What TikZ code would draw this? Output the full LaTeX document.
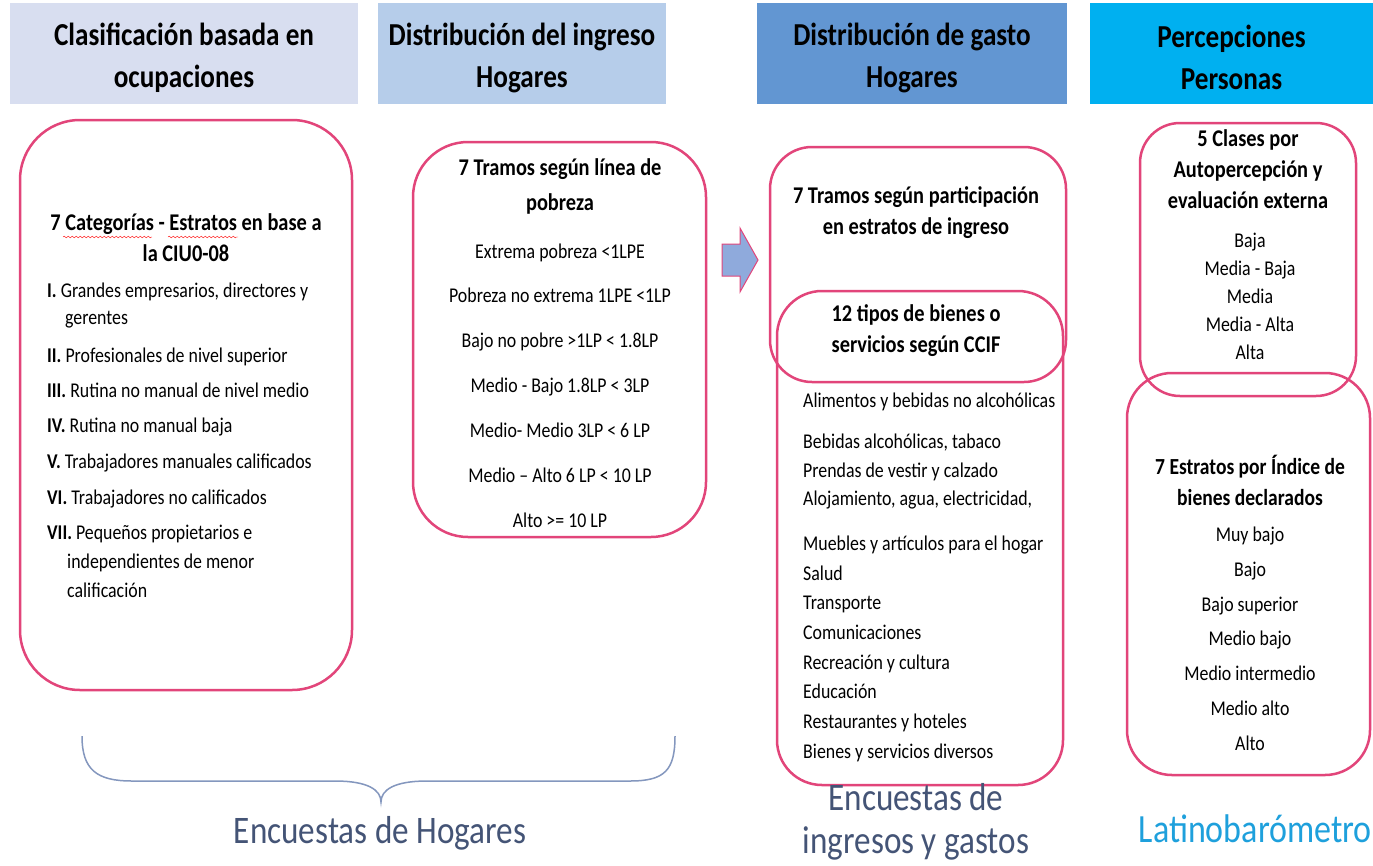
\documentclass[tikz,border=0pt]{standalone}
\usepackage{fontspec}
\setmainfont{Carlito}[FakeStretch=0.85]
\usetikzlibrary{decorations.pathmorphing}

\definecolor{boxline}{RGB}{226,69,122}
\definecolor{headA}{RGB}{216,222,240}
\definecolor{headB}{RGB}{182,205,234}
\definecolor{headC}{RGB}{98,150,210}
\definecolor{headD}{RGB}{0,176,240}
\definecolor{arrowfill}{RGB}{143,170,220}
\definecolor{bracecol}{RGB}{132,151,190}
\definecolor{surveycol}{RGB}{68,84,118}
\definecolor{latcol}{RGB}{30,160,220}

\tikzset{
  head/.style={inner sep=0pt, minimum height=101pt},
  headtext/.style={inner sep=0pt, align=center, font=\fontsize{32}{42}\selectfont\bfseries},
  box/.style={draw=boxline, line width=2.5pt},
  title/.style={inner sep=0pt, align=center, font=\fontsize{24}{31}\selectfont\bfseries},
  item/.style={inner sep=0pt, anchor=base, font=\fontsize{21}{24}\selectfont},
  itemL/.style={item, anchor=base west},
  wavy/.style={red, thin, decorate, decoration={snake, amplitude=0.8pt, segment length=4pt}},
  survey/.style={inner sep=0pt, align=center, text=surveycol,
    font=\fontsize{39}{43}\selectfont}
}

\begin{document}
\begin{tikzpicture}[x=1pt, y=-1pt]

\useasboundingbox[fill=white] (0,0) rectangle (1373,865);

% Column headers
\node[head, fill=headA, minimum width=348pt] (hocup) at (184,53.5) {};
\node[head, fill=headB, minimum width=288pt] (hing) at (522,53.5) {};
\node[head, fill=headC, minimum width=310pt] (hgas) at (912,53.5) {};
\node[head, fill=headD, minimum width=283pt] (hper) at (1231.5,53.5) {};
\node[headtext] (tocup) at ([yshift=-4pt]hocup.center) {Clasificación basada en\\ocupaciones};
\node[headtext] (ting) at ([yshift=-4pt]hing.center) {Distribución del ingreso\\Hogares};
\node[headtext] (tgas) at ([yshift=-4pt]hgas.center) {Distribución de gasto\\Hogares};
\node[headtext] (tper) at ([yshift=-4pt]hper.center) {Percepciones\\Personas};

% Occupations box
\draw[box, rounded corners=60pt] (20,120) rectangle (352,690);
\node[title] (tcat) at (186,238) {7 Categorías - Estratos en base a\\la CIU0-08};
\draw[wavy] (63,237) -- (152,237);
\draw[wavy] (168,237) -- (238,237);
\node[itemL] (c1) at (47,297) {\textbf{I.} Grandes empresarios, directores y};
\node[itemL] (c1b) at (65,324) {gerentes};
\node[itemL] (c2) at (47,362) {\textbf{II.} Profesionales de nivel superior};
\node[itemL] (c3) at (47,397) {\textbf{III.} Rutina no manual de nivel medio};
\node[itemL] (c4) at (47,432) {\textbf{IV.} Rutina no manual baja};
\node[itemL] (c5) at (47,468) {\textbf{V.} Trabajadores manuales calificados};
\node[itemL] (c6) at (47,504) {\textbf{VI.} Trabajadores no calificados};
\node[itemL] (c7) at (47,539) {\textbf{VII.} Pequeños propietarios e};
\node[itemL] (c7b) at (67,568) {independientes de menor};
\node[itemL] (c7c) at (67,597) {calificación};

% Income box
\draw[box, rounded corners=55pt] (413,142) rectangle (706,537);
\node[title, font=\fontsize{24}{35}\selectfont\bfseries] (ttra) at (560,186) {7 Tramos según línea de\\pobreza};
\node[item] (i1) at (560,258) {Extrema pobreza <1LPE};
\node[item] (i2) at (560,302) {Pobreza no extrema 1LPE <1LP};
\node[item] (i3) at (560,347) {Bajo no pobre >1LP < 1.8LP};
\node[item] (i4) at (560,392) {Medio - Bajo 1.8LP < 3LP};
\node[item] (i5) at (560,437) {Medio- Medio 3LP < 6 LP};
\node[item] (i6) at (560,482) {Medio -- Alto 6 LP < 10 LP};
\node[item] (i7) at (560,527) {Alto >= 10 LP};

% Block arrow
\coordinate (arr) at (722,260);
\draw[boxline, line width=1pt, fill=arrowfill] (arr) ++(0,-16) -- ++(18,0) -- ++(0,-16) -- ++(18,32)
  -- ++(-18,32) -- ++(0,-16) -- ++(-18,0) -- cycle;

% Expenditure boxes
\draw[box, rounded corners=42pt] (770,147) rectangle (1066,382);
\draw[box, rounded corners=45pt] (777,291) rectangle (1063,785);
\node[title] (tpar) at (916,213) {7 Tramos según participación\\en estratos de ingreso};
\node[title] (tcci) at (916,331) {12 tipos de bienes o\\servicios según CCIF};
\node[itemL] (g1) at (803,407) {Alimentos y bebidas no alcohólicas};
\node[itemL] (g2) at (803,448) {Bebidas alcohólicas, tabaco};
\node[itemL] (g3) at (803,477) {Prendas de vestir y calzado};
\node[itemL] (g4) at (803,505) {Alojamiento, agua, electricidad,};
\node[itemL] (g5) at (803,550) {Muebles y artículos para el hogar};
\node[itemL] (g6) at (803,580) {Salud};
\node[itemL] (g7) at (803,609) {Transporte};
\node[itemL] (g8) at (803,639) {Comunicaciones};
\node[itemL] (g9) at (803,669) {Recreación y cultura};
\node[itemL] (g10) at (803,698) {Educación};
\node[itemL] (g11) at (803,728) {Restaurantes y hoteles};
\node[itemL] (g12) at (803,758) {Bienes y servicios diversos};

% Perception boxes
\draw[box, rounded corners=40pt] (1140,123) rectangle (1356,396);
\draw[box, rounded corners=45pt] (1127,373) rectangle (1370,775);
\node[title] (tcla) at (1248,169) {5 Clases por\\Autopercepción y\\evaluación externa};
\node[item] (p1) at (1250,247) {Baja};
\node[item] (p2) at (1250,275) {Media - Baja};
\node[item] (p3) at (1250,303) {Media};
\node[item] (p4) at (1250,331) {Media - Alta};
\node[item] (p5) at (1250,359) {Alta};
\node[title, font=\fontsize{23}{31}\selectfont\bfseries] (test) at (1250,480) {7 Estratos por Índice de\\bienes declarados};
\node[item] (b1) at (1250,541) {Muy bajo};
\node[item] (b2) at (1250,576) {Bajo};
\node[item] (b3) at (1250,611) {Bajo superior};
\node[item] (b4) at (1250,645) {Medio bajo};
\node[item] (b5) at (1250,680) {Medio intermedio};
\node[item] (b6) at (1250,715) {Medio alto};
\node[item] (b7) at (1250,750) {Alto};

% Brace and sources
\draw[bracecol, line width=1.5pt] (82,736) .. controls (82,770) and (97,781) .. (132,781) -- (335,781)
  .. controls (368,781) and (381,790) .. (381,802) .. controls (381,790) and (394,781) .. (427,781)
  -- (630,781) .. controls (665,781) and (675,770) .. (675,736);
\node[survey] (ehog) at (380,833) {Encuestas de Hogares};
\node[survey] (eing) at (916,822) {Encuestas de\\ingresos y gastos};
\node[survey, text=latcol, anchor=east, font=\fontsize{40}{44}\selectfont] (lat) at (1372,829) {Latinobarómetro};

\end{tikzpicture}
\end{document}
